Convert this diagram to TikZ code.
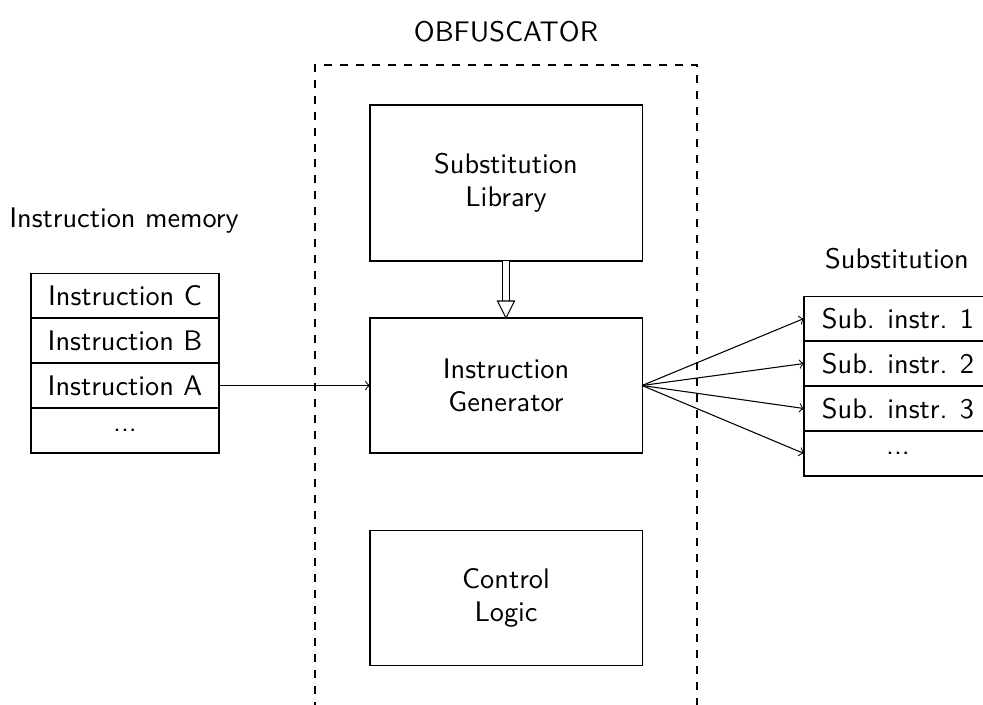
\documentclass[tikz,border=0pt]{standalone}
\usetikzlibrary{calc}
\begin{document}
\begin{tikzpicture}[x=0.376pt,y=-0.376pt,font=\fontsize{10.65pt}{12.4pt}\selectfont\sffamily,
  block/.style={draw, minimum width=102.3pt, align=center, inner sep=0pt, outer sep=0pt},
  stackrow/.style={draw, minimum width=70.7pt, minimum height=16.9pt, inner sep=0pt, outer sep=0pt},
  lbl/.style={inner sep=0pt}]
\useasboundingbox (0,0) rectangle (983,704);
% obfuscator frame
\node[lbl] (title) at (506,32) {OBFUSCATOR};
\coordinate (fbl) at (315,710);
\coordinate (ftl) at (315,65);
\coordinate (ftr) at (697,65);
\coordinate (fbr) at (697,710);
\draw[dashed] (fbl) -- (ftl) -- (ftr) -- (fbr);
% blocks
\node[block, minimum height=58.66pt] (lib) at (506,183) {Substitution\\Library};
\node[block, minimum height=50.76pt] (gen) at (506,385.5) {Instruction\\Generator};
\node[block, minimum height=51.1pt] (ctl) at (506,598) {Control\\Logic};
% double arrow
\coordinate (tri) at ($(gen.north)+(0,-17)$);
\draw[double, double distance=5.5*0.376pt] (lib.south) -- (tri);
\draw[fill=white] ($(tri)+(-8.5,0)$) -- ($(tri)+(8.5,0)$) -- (gen.north) -- cycle;
% instruction memory
\node[lbl] (memlbl) at (124,221) {Instruction memory};
\node[stackrow] (ic) at (125,295.5) {Instruction C};
\node[stackrow] (ib) at (125,340.5) {Instruction B};
\node[stackrow] (ia) at (125,385.5) {Instruction A};
\node[stackrow] (id) at (125,430.5) {...};
% substitution
\node[lbl] (sublbl) at (897,259) {Substitution};
\node[stackrow] (s1) at (898,318.5) {Sub. instr. 1};
\node[stackrow] (s2) at (898,363.5) {Sub. instr. 2};
\node[stackrow] (s3) at (898,408.5) {Sub. instr. 3};
\node[stackrow] (s4) at (898,453.5) {...};
% connectors
\draw[->] (ia.east) -- (gen.west);
\foreach \s in {s1,s2,s3,s4} \draw[->] (gen.east) -- (\s.west);
\end{tikzpicture}
\end{document}
